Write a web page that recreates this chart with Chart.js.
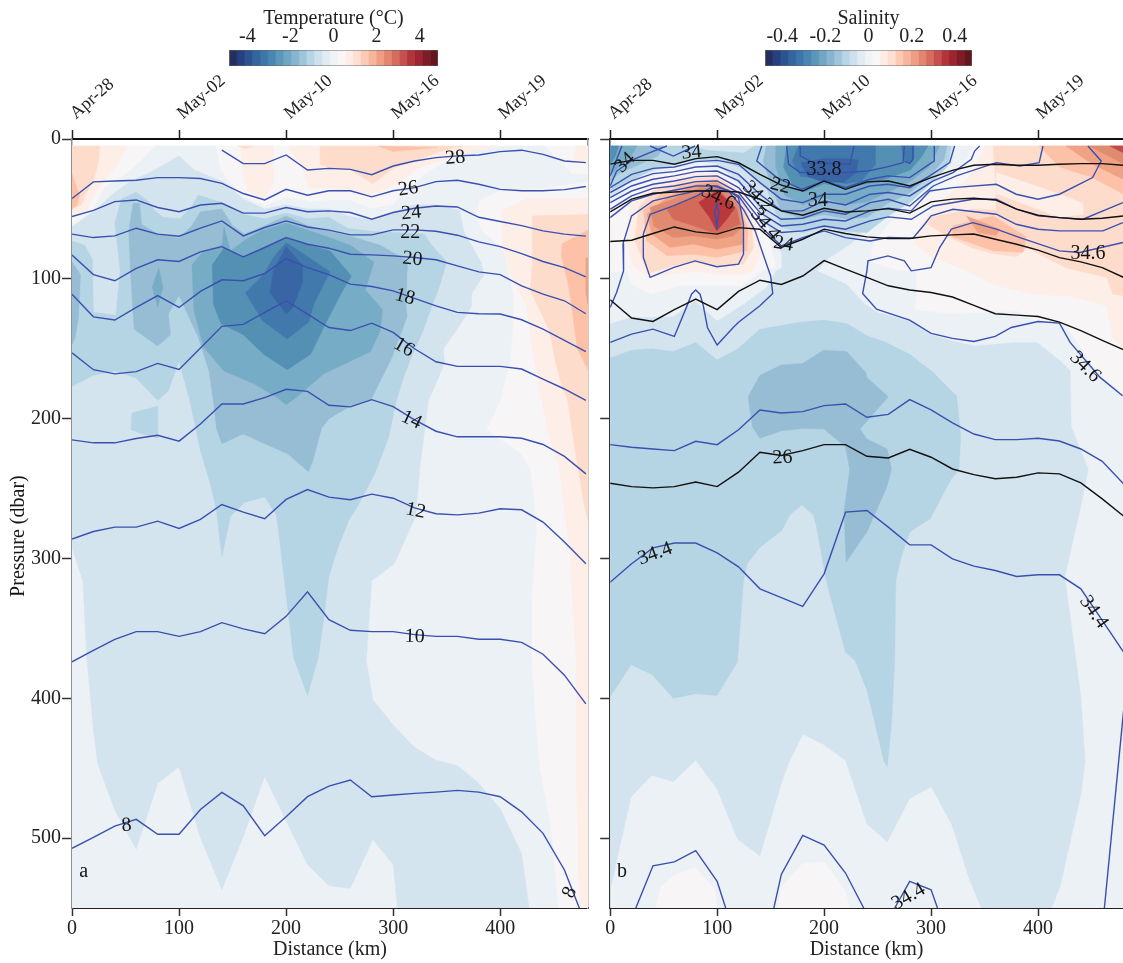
<!DOCTYPE html>
<html>
<head>
<meta charset="utf-8">
<title>Temperature and salinity anomaly sections</title>
<script src="https://cdn.jsdelivr.net/npm/chart.js@4/dist/chart.umd.js"></script>
<style>
  html, body { margin: 0; padding: 0; background: #fff; overflow: hidden; }
  canvas { position: absolute; }
</style>
</head>
<body>
<canvas id="panelA" style="left:0;top:0" width="600" height="963"></canvas>
<canvas id="panelB" style="left:590px;top:0" width="533" height="963"></canvas>
<canvas id="barA" style="left:190px;top:0" width="290" height="70"></canvas>
<canvas id="barB" style="left:726px;top:0" width="290" height="70"></canvas>
<script>
// ---- axes
const distanceTicks = [0, 100, 200, 300, 400];
const pressureTicks = [0, 100, 200, 300, 400, 500];
const dateLabels = ["Apr-28", "May-02", "May-10", "May-16", "May-19"];
const tempBarTicks = [-4, -2, 0, 2, 4];
const salBarTicks = [-0.4, -0.2, 0, 0.2, 0.4];

// CTD stations every 20 km
const stations = [0, 20, 40, 60, 80, 100, 120, 140, 160, 180, 200, 220, 240, 260, 280, 300, 320, 340, 360, 380, 400, 420, 440, 460, 480];

// ---- isotherms, pressure at each station (panel a)
const iso28 = [null, null, null, null, null, null, null, 8, 17.6, 17.6, 11.4, 22.2, 21, 21.7, 25.5, 19.3, 15.7, 13.3, 12.1, 11.4, 9, 8, 11, 15.7, 16.9];
const iso26 = [42.6, 30.7, 30, 29.5, 27.6, 27.6, 28.3, 31.7, 39, 43.6, 36, 40.2, 37, 37, 41.4, 37, 34.8, 30.5, 29.5, 32.4, 36, 37, 37, 36.2, 34];
const iso24 = [55.5, 51, 44.8, 43.6, 49, 52, 47.2, 46, 53, 53, 49, 52, 51.4, 52.6, 57.4, 52.6, 49.5, 47.9, 48.6, 56, 59, 62, 65.7, 68, 69.5];
const iso22 = [68, 70.5, 69.3, 63.8, 68, 69.5, 63.8, 58.6, 69.3, 63.3, 58.6, 62.9, 65.2, 68.6, 68.6, 65, 65, 66, 68.8, 73.6, 77, 82, 87.6, 92, 98.6];
const iso20 = [83, 97, 101.4, 92.6, 86.4, 87.6, 80.7, 77, 84.3, 77.6, 70.5, 75.3, 78.1, 82.4, 82.9, 83.6, 84.8, 86.4, 90.7, 95, 97, 105, 111, 115.7, 125];
const iso18 = [111, 127.2, 129.5, 120.5, 112, 120.5, 109, 100.7, 101.4, 96.2, 85.5, 92, 97, 103.8, 105.5, 108.6, 114, 119.3, 124, 125, 125.2, 129.3, 136, 144, 152];
const iso16 = [153, 165, 168, 166.4, 160.5, 164.8, 149.5, 134, 132.6, 124, 115.7, 125.2, 134.8, 137, 131.7, 138.3, 150, 159.3, 162.6, 162.6, 162.6, 164.5, 171.7, 178.8, 187];
const iso14 = [215.2, 217.3, 217.3, 214.2, 211.9, 216.1, 203.8, 189.5, 189.5, 185, 179, 180.5, 190.4, 191.6, 186.4, 191.4, 200.9, 209, 213, 213, 213, 214, 218.5, 227, 239.5];
const iso12 = [286.1, 280.7, 277.6, 277.6, 273.3, 278.5, 272.1, 261.4, 266.9, 271.6, 257.8, 250.7, 256.1, 258, 254, 256.9, 263.8, 268, 268.8, 267.6, 264.5, 265.2, 274, 288.3, 303.8];
const iso10 = [374, 365.7, 357.8, 352.3, 352.3, 355.7, 352.3, 345.9, 350.4, 353.8, 341.4, 323.8, 343.8, 351.4, 352.3, 352.3, 354.5, 355.7, 355.7, 357.8, 357.8, 360, 368.5, 383.5, 404];
const iso8 = [507.3, 499.5, 491.4, 486.6, 497.3, 497.3, 479.5, 467.3, 476.9, 498.3, 484.7, 470.4, 462.8, 458.5, 470.4, 469.2, 468, 467.1, 465.9, 467.1, 470.4, 481.2, 496.6, 522.8, 562];

// ---- temperature anomaly bands, [km, dbar] outlines (panel a)
const tField = [[0, 5], [482, 5], [482, 550], [0, 550]];
const tCool1 = [[78, 5], [134, 5], [139, 23], [151, 34], [162, 42], [179, 48], [200, 42], [223, 45], [241, 44], [260, 44], [280, 50], [300, 47], [308, 40], [330, 25], [361, 11], [402, 5], [442, 5], [455, 16], [467, 25], [482, 26], [482, 30], [439, 35], [399, 37], [380, 44], [377, 56], [383, 66], [402, 78], [408, 97], [412, 111], [412, 125], [410, 156], [405, 170], [400, 187], [387, 208], [419, 225], [428, 237], [434, 277], [429, 330], [429, 373], [436, 447], [447, 492], [454, 550], [0, 550], [0, 62], [20, 51], [30, 35], [51, 25], [64, 16]];
const tCool2 = [[100, 12], [114, 22], [142, 31], [160, 43], [180, 50], [200, 47], [220, 50], [240, 50], [258, 55], [280, 58], [300, 52], [320, 47], [340, 47], [362, 51], [366, 66], [382, 88], [385, 97], [373, 111], [373, 120], [365, 130], [347, 150], [348, 160], [340, 175], [333, 187], [325, 235], [321, 270], [301, 304], [280, 316], [275, 373], [281, 401], [301, 420], [320, 435], [339, 444], [360, 448], [379, 460], [400, 479], [420, 511], [427, 550], [304, 550], [300, 519], [281, 501], [260, 536], [240, 534], [220, 519], [180, 456], [160, 499], [140, 537], [120, 500], [100, 449], [80, 461], [60, 508], [40, 480], [24, 447], [20, 423], [14, 373], [10, 316], [0, 292], [0, 63], [20, 52], [40, 38], [55, 30], [75, 23]];
const tCool3 = [[0, 73], [12, 76], [19, 86], [20, 124], [41, 126], [45, 94], [40, 60], [46, 43], [60, 38], [72, 45], [77, 51], [85, 56], [101, 57], [112, 48], [118, 40], [142, 46], [161, 54], [180, 57], [200, 53], [220, 57], [240, 56], [258, 64], [280, 66], [307, 67], [329, 68], [336, 76], [350, 88], [343, 106], [336, 120], [328, 137], [317, 156], [310, 170], [303, 187], [296, 213], [283, 239], [268, 261], [259, 272], [248, 293], [240, 313], [235, 344], [230, 371], [220, 398], [207, 371], [198, 313], [191, 269], [180, 256], [161, 260], [148, 270], [140, 299], [135, 266], [130, 249], [120, 223], [110, 187], [100, 159], [90, 180], [80, 187], [60, 171], [40, 166], [20, 169], [0, 177]];
const tCool3Spot = [[56, 196], [80, 191], [80, 214], [70, 212], [55, 208]];
const tCool4 = [[53, 66], [57, 46], [63, 46], [65, 61], [80, 68], [100, 71], [112, 62], [120, 52], [140, 50], [150, 62], [161, 68], [180, 62], [200, 55], [220, 62], [240, 66], [262, 70], [288, 76], [313, 87], [313, 94], [312, 120], [313, 127], [299, 156], [279, 187], [260, 191], [240, 200], [233, 207], [225, 230], [221, 238], [201, 225], [180, 218], [160, 211], [140, 218], [135, 207], [132, 187], [128, 166], [118, 142], [100, 112], [90, 125], [92, 140], [80, 148], [58, 136], [55, 100]];
const tCool4Edge = [[0, 88], [8, 97], [6, 128], [3, 142], [0, 147]];
const tCool5 = [[112, 90], [114, 123], [123, 149], [142, 166], [170, 175], [192, 185], [200, 190], [209, 185], [235, 168], [279, 152], [288, 137], [290, 122], [274, 108], [282, 88], [260, 76], [235, 69], [200, 60], [176, 66], [162, 72], [148, 80], [142, 63], [140, 76], [123, 80]];
const tCool5Spot = [[81, 92], [75, 106], [80, 120], [85, 106]];
const tCool6 = [[131, 90], [142, 78], [160, 85], [179, 78], [200, 71], [221, 76], [241, 80], [261, 98], [251, 111], [235, 135], [223, 154], [201, 165], [179, 154], [160, 140], [139, 132], [132, 118]];
const tCool7 = [[162, 110], [179, 97], [188, 85], [200, 74], [216, 82], [241, 95], [226, 118], [221, 131], [201, 143], [178, 130]];
const tCool8 = [[185, 110], [188, 94], [200, 77], [215, 90], [215, 103], [206, 121], [200, 125], [193, 118]];
const tWarmLeft1 = [[0, 5], [52, 5], [42, 19], [30, 30], [20, 40], [14, 51], [0, 54]];
const tWarmLeft2 = [[0, 5], [26, 5], [25, 16], [20, 30], [12, 40], [9, 47], [0, 50]];
const tWarmLeft3 = [[0, 25], [7, 40], [5, 47], [0, 50]];
const tWarmTop1 = [[157, 5], [159, 18], [164, 37], [179, 43], [188, 32], [188, 5]];
const tWarmTop2 = [[201, 5], [215, 20], [221, 35], [241, 35], [260, 37], [281, 40], [304, 32], [323, 21], [361, 11], [398, 5]];
const tWarmTop3 = [[232, 5], [232, 18], [241, 21], [260, 22], [281, 32], [300, 21], [322, 15], [344, 9], [364, 5]];
const tWarmTop4 = [[286, 5], [300, 9], [342, 6]];
const tWarmTop5 = [[155, 5], [162, 7], [170, 5]];
const tWarmCorner = [[471, 5], [468, 16], [482, 17], [482, 5]];
const tWarmRight1 = [[402, 51], [424, 43], [482, 43], [482, 550], [474, 550], [471, 449], [471, 373], [465, 294], [455, 235], [444, 208], [439, 187], [430, 150], [425, 120], [411, 99], [402, 78]];
const tWarmRight2 = [[430, 55], [482, 54], [482, 273], [478, 260], [470, 223], [463, 187], [457, 175], [452, 161], [446, 137], [428, 108], [430, 90]];
const tWarmRight3 = [[458, 75], [482, 65], [482, 165], [472, 150], [466, 116], [463, 102], [457, 83]];
const tWarmRight4 = [[480, 85], [482, 85], [482, 118], [480, 110]];

// ---- isopycnals, pressure at each station (panel b)
const sigma26 = [246.2, 248.6, 249.5, 248.6, 245.3, 248.6, 238.3, 224, 226.4, 222.9, 218.6, 218.6, 226.9, 228.1, 221.9, 227.6, 236, 240, 243, 241.9, 238.8, 239.5, 246, 257.4, 269.8];
const sigma25 = [115, 128, 130.5, 122, 114.5, 122, 109, 101, 104, 98, 87, 93, 99, 105, 108, 109.8, 113, 119, 125, 126, 127, 131, 137, 144, 150.7];
const sigma24 = [73.3, 72.4, 67.6, 62.9, 66.4, 68, 63.4, 64.5, 77.6, 71.7, 64.5, 67.6, 70, 71.2, 71.2, 69.3, 68.6, 68, 71.7, 75.3, 79.5, 84.8, 87.9, 92, 99];
const sigma23 = [52.2, 43, 38.8, 37.9, 37.2, 37.2, 37.9, 43.1, 51.4, 54.5, 49.5, 52.2, 51.4, 49.8, 53, 45, 43, 42.4, 43.6, 50.2, 54.5, 56.2, 57.4, 56.7, 55];
const sigma22 = [18, 15.3, 15.3, 18, 14, 12.6, 17, 25.3, 33, 37.2, 30, 36, 30.7, 30, 33.6, 27.6, 22.4, 18.8, 18.1, 18.8, 18.8, 18.1, 17.6, 17.6, 18.8];

// ---- isohalines (panel b)
const hal344 = [317, 303.8, 292.4, 289, 289, 296, 306, 321.7, 328, 334.3, 311, 266.9, 265.7, 277.6, 290.3, 290.3, 300.3, 305.5, 308.6, 312.9, 311.7, 311.7, 321.7, 344.3, 367];
const hal345 = [218.6, 220.5, 221.7, 222.9, 216.2, 218.6, 208, 193.8, 196, 195, 190.7, 189.5, 199, 197, 186.4, 193.8, 203, 211, 215, 215, 214, 216, 221.7, 230.5, 246.7];
const halArc1 = [[24, 550], [40, 519.8], [60, 517], [80, 509], [100, 531], [108, 550]];
const halArc2 = [[153, 550], [160, 526], [180, 498], [200, 505], [220, 525], [237, 550]];
const halArc3 = [[266, 550], [280, 531], [300, 537], [306, 550]];
const halArc4 = [[462, 550], [480, 408.5]];
const halTongue = [[479, 183.6], [458, 170.5], [430, 145.5], [420, 131.7], [400, 130.5], [375, 134.8], [360, 141.2], [340, 144.8], [320, 142.6], [300, 139], [280, 129.5], [249, 121.7], [236, 110.5], [240, 94.3], [241, 87.2], [259.7, 83.6], [275, 87.2], [281.5, 94.3], [300, 92], [308, 77.6], [319, 64.5], [339, 59.8], [361, 64.5], [383, 70.5], [420, 80], [439, 81.2], [479.3, 74]];
const halBlobOuter = [[0, 145.5], [20, 139.5], [40, 136], [60, 141.2], [72, 119], [76, 111], [80, 108], [84, 111], [87, 119], [91, 135], [100, 147.4], [115, 134.8], [120, 131], [140, 119.3], [152, 110.5], [150, 98], [143, 82.4], [135.5, 65.7], [124.6, 50.3], [110.6, 37.2], [100, 36.7], [80, 37.2], [60, 40.7], [40, 44.3], [20, 55], [12, 75], [12.5, 94.3], [6, 109.8], [0, 120.5]];
const halBlobMid = [[31, 68], [37.4, 53.8], [59, 47.9], [81, 40.7], [96.6, 33.6], [110.6, 36.7], [120, 42], [124.6, 61], [124.6, 82.4], [120, 89.5], [99.7, 91.4], [79.4, 87.2], [59, 92], [37.4, 99], [31, 84.8], [31, 68]];
const halBlobCore = [[99.7, 64.5], [98, 52], [99.7, 46], [101.5, 52], [99.7, 64.5]];
const halA = [[0, 34.8], [20, 25.3], [40, 21], [60, 20], [80, 16.2], [100, 15.3], [120, 18.1], [140, 31.2], [160, 43.1], [180, 45.5], [200, 39.5], [220, 39.5], [242.6, 33.6], [259.7, 32.4], [280, 34.8], [298.7, 26.4], [317.3, 16.9], [322, 5]];
const halB = [[0, 38.3], [20, 30], [40, 24.8], [60, 23.3], [80, 20], [100, 19.3], [120, 25.3], [140, 39.5], [160, 51.4], [180, 51.4], [200, 44.3], [220, 47.2], [243, 39.5], [260, 38.3], [280, 40.7], [302, 30], [320.5, 24], [337.6, 14.5], [340.7, 8.6], [345.4, 5]];
const halC = [[0, 41.9], [20, 33.6], [40, 28.8], [60, 26.4], [80, 23.3], [100, 22.9], [120, 30], [140, 47.9], [160, 57.4], [180, 56.7], [200, 51.4], [220, 53.8], [243, 45.5], [260, 43.1], [280, 47.9], [302, 33.6], [323.6, 26.4], [361, 16.9], [383, 19.3], [401, 16.9], [404.6, 5]];
const halD = [[0, 45.5], [20, 37.2], [40, 32.4], [60, 30], [80, 26.9], [100, 26.4], [120, 34.8], [140, 52.6], [160, 62.2], [180, 61], [200, 57.4], [220, 58.6], [243, 51.4], [260, 49.5], [281.5, 51.4], [298.7, 37.2], [320.5, 34.8], [361, 32.4], [379.6, 39.5], [400, 43.1], [420, 39.5], [451, 27.6], [459, 15.7], [446.6, 5]];
const halE = [[0, 50.3], [20, 40.7], [40, 35.3], [60, 33.6], [80, 30.5], [100, 30], [120, 38.3], [140, 57.4], [160, 66.9], [180, 65.7], [200, 62.2], [220, 64.5], [243, 58.6], [260, 55.7], [281.5, 57.4], [302, 47.9], [339, 43.1], [361, 43.1], [379.6, 50.2], [400, 55], [420, 56.2], [442, 57.4], [479.3, 45.5]];
const halF = [[0, 56.2], [20, 44.3], [40, 39.5], [60, 36.7], [80, 33.6], [100, 33.6], [120, 40.7], [140, 62.2], [160, 76.4], [180, 70.5], [200, 65.7], [220, 70.5], [243, 72.9], [260, 70.5], [283, 71], [294, 61], [300, 55], [320.5, 50.3], [361, 53.8], [379.6, 61], [400, 64.5], [420, 65.7], [460.6, 65.7], [479.3, 59.8]];
const halCoreOuter = [[141.7, 5], [137, 15.7], [155.8, 27.6], [179, 36], [200, 30], [220, 34.8], [242.6, 28.8], [259.7, 26.4], [280, 27.6], [303, 15.7], [303, 5]];
const halCoreMid = [[165, 5], [166.7, 18], [177.6, 24], [200, 24], [220, 24], [241, 22.9], [260, 19.8], [273.7, 17], [275, 5]];
const halCoreIn = [[177.6, 5], [177.6, 12], [190, 17], [224, 18], [228, 5]];
const halCoreSmall = [[275, 16], [280, 17.4], [283, 14.5], [283, 5]];
const halTop1 = [[37.4, 5], [59, 12.2], [79.4, 5]];
const halTop2 = [[0, 26.4], [7.8, 11], [11, 5]];
const halTop3 = [[0, 33.6], [6, 23], [22, 14.5], [37, 9.8], [53, 5]];

// ---- salinity anomaly bands (panel b)
const sField = [[0, 5], [480, 5], [480, 550], [0, 550]];
const sCool2 = [[0, 5], [322, 5], [319, 17], [302, 29], [281.5, 40.7], [260, 51.4], [242.6, 61], [225, 75], [205, 85], [193, 94], [221, 104], [238, 118], [249, 124], [280, 130], [299, 140], [318, 144], [340, 148], [380, 145.5], [399, 145.5], [420.6, 158.6], [430, 165.7], [431, 206], [447, 236], [439, 266], [425, 313], [434.6, 368], [440, 399], [444, 445.5], [440, 469], [420.6, 534.7], [412.8, 550], [347, 550], [336, 530], [319, 489.5], [300, 463.3], [280, 471.7], [259, 502.6], [240, 490], [220, 444.3], [199.4, 433], [180, 425.7], [166.7, 446.7], [160, 461], [140, 512.6], [119, 500.7], [99.7, 464.5], [80, 444.3], [59, 459.7], [39, 455], [19.6, 470.5], [9, 506], [0, 537]];
const sFringe = [[0, 132], [18.7, 127.6], [59, 127], [79.4, 115.7], [100, 130], [124.6, 118], [146, 106], [155, 94], [160, 92], [160, 82], [152, 70], [140, 51], [125, 35], [100, 18], [80, 16], [59, 19], [37, 24], [19, 30], [0, 43]];
const sNeutralBlob = [[0, 48], [19, 34.8], [37, 27.6], [59, 23], [80, 20], [100, 23], [121, 33.6], [137, 51.4], [149, 73], [155, 92], [143, 94], [123, 105], [65, 105], [38, 111], [20, 104], [16, 95], [0, 95]];
const sNeutralRight = [[339, 5], [480, 5], [480, 182], [458, 170], [433, 141], [422, 131], [396, 130], [380, 123], [318, 125], [285, 122], [287, 108], [286, 94], [270, 94], [243, 88], [246, 75], [261, 60], [280, 51], [302, 37], [320, 25], [334, 14]];
const sNeutralArc1 = [[43, 550], [47, 535], [60, 526], [80, 521], [98, 537], [100, 550]];
const sNeutralArc2 = [[156, 550], [160, 535], [180, 518], [200, 517], [220, 538], [224, 550]];
const sCool3 = [[0, 156.7], [20, 151], [39, 150], [59, 152], [80, 145.5], [100, 158], [119.4, 150], [140, 136], [177.6, 131], [199.4, 129.5], [221, 132], [240, 140.7], [258, 145.5], [280, 154], [302, 167], [324, 184], [327.7, 213], [326, 237], [319, 243], [299, 271.7], [280, 281], [272, 299], [267, 316], [266, 373], [263, 418], [259, 449], [256, 445], [240, 394], [229, 373], [220, 367], [202, 316], [193, 277.6], [190, 269], [179, 261.7], [168, 269], [160.4, 280], [140, 292], [128, 304], [124.6, 316], [119, 374], [99.7, 398], [80, 396.7], [59, 400], [39, 383], [19.6, 376], [0, 399]];
const sCool4 = [[129, 184.3], [140, 169], [160, 161.7], [180, 160.5], [199.4, 151], [221, 152], [239, 167], [240, 170.5], [260, 184.3], [233.6, 207.4], [240, 214.5], [259, 221.7], [263, 236], [258.5, 249], [240, 281], [220.5, 302.6], [218.7, 265.7], [224, 236.4], [220, 220.5], [200, 207.4], [180.7, 207], [160.4, 208.6], [140, 214], [133, 206]];
const sTop3 = [[0, 5], [75, 5], [90, 8], [105, 9], [125, 10], [135, 5], [319, 5], [315, 20], [298, 33], [281, 45], [260, 55], [240, 67], [220, 66], [200, 63], [180, 67], [160, 63], [146, 35], [134, 27.6], [121.5, 20.4], [99.7, 14.5], [71.7, 15.7], [40.5, 21.6], [18.7, 30], [0, 37]];
const sTop4Left = [[0, 5], [50, 5], [45, 12], [25, 19], [10, 24], [0, 30]];
const sTop4 = [[146, 5], [143, 16], [150, 32], [160, 52], [180, 57], [200, 54], [220, 57], [240, 56], [260, 46], [281, 38], [298, 27], [312, 15], [315, 5]];
const sTop5Left = [[0, 5], [25, 5], [20, 12], [8, 20], [0, 26]];
const sTop5 = [[155, 5], [155, 20], [163, 40], [180, 47], [200, 42], [220, 47], [240, 45], [260, 38], [281, 30], [298, 20], [308, 5]];
const sTop6Left = [[0, 5], [8, 5], [5, 12], [0, 18]];
const sTop6 = [[165, 5], [162, 20], [170, 32], [180, 38], [200, 32], [220, 35], [240, 32], [260, 28], [281, 22], [292, 12], [297, 5]];
const sTop7 = [[176, 5], [170, 16], [178, 27], [200, 28], [220, 32], [235, 30], [248, 18], [248, 5]];
const sTop7Spot = [[272, 5], [274, 15], [280, 17], [284, 13], [284, 5]];
const sTop8 = [[178, 17], [185, 27], [200, 31], [218, 31], [230, 24], [232, 15], [220, 14], [200, 14]];
const sRight1 = [[350, 5], [345, 15], [335, 28], [310, 44], [290, 60], [285, 75], [302, 85], [320, 90], [336, 95], [358, 104], [396, 111], [427, 112], [464, 119], [470, 142], [480, 150], [480, 5]];
const sRight2 = [[358, 5], [361, 39], [361, 51], [339, 50], [300, 56], [297, 61], [316, 70], [339, 78], [358, 82], [380, 84], [390, 78], [426, 92], [464, 99], [470, 111], [480, 112], [480, 5]];
const sRightPatch = [[361, 24], [404, 35], [442, 46], [442, 54], [420, 56], [392, 48], [361, 39]];
const sRight3 = [[401, 5], [420, 20], [451, 27.6], [480, 39.5], [480, 5]];
const sTongue3 = [[320, 62], [358, 55], [389, 70], [386, 81], [358, 80], [320, 70]];
const sTongue4 = [[333, 55], [364, 64.5], [361, 69], [344, 67]];
const sRight4 = [[426, 5], [451, 18], [480, 29], [480, 5]];
const sRight5 = [[448, 5], [480, 18], [480, 5]];
const sRight6 = [[467, 5], [480, 10], [480, 5]];
const sBlob1 = [[18.7, 46.6], [40.5, 31], [71.7, 25], [99.7, 24], [124.6, 37], [137, 63], [140, 82.4], [134, 94], [124.6, 96.7], [99.7, 96.7], [79.4, 94.3], [56, 96.7], [37.4, 99], [22, 92], [15.6, 75]];
const sBlob2 = [[26.5, 49], [40.5, 37], [71.7, 28.8], [99.7, 26.4], [123, 40.7], [132.4, 63], [134, 77.6], [124.6, 89.5], [99.7, 90.7], [79.4, 88.3], [59, 90.7], [37.4, 95.5], [31, 87], [23, 73]];
const sBlob3 = [[31, 51.4], [46.7, 39.5], [74.8, 31], [99.7, 28.8], [120, 43], [129, 65.7], [127.7, 80], [99.7, 84.7], [77.9, 82.4], [53, 83.5], [34, 72.8]];
const sBlob4 = [[34.3, 53.8], [53, 41.9], [81, 32.4], [99.7, 31], [120, 44.3], [124.6, 64.5], [124.6, 75.2], [99.7, 78.8], [77.9, 75.2], [56, 77.6], [39, 68]];
const sBlob5 = [[37.4, 49], [59, 43], [84, 34.7], [106, 34.7], [120, 47.8], [123, 63.3], [115, 69.3], [99.7, 71.6], [77.9, 69.3], [59, 70.5], [40.5, 62]];
const sBlob6 = [[53, 50.2], [84, 39.5], [102.8, 37], [118.4, 50.2], [121.5, 61], [99.7, 68], [77.9, 62], [59, 57.4]];
const sBlob7 = [[82.6, 45.4], [99.7, 37], [116.8, 49], [109, 57.4], [99.7, 65.7], [92, 55]];

// ---- contour labels: km, dbar, text, rotation
const tempLabels = [
  [358, 13.6, "28", -5], [314, 35.7, "26", -8], [317, 53, "24", -5], [316, 67, "22", 0], [318, 86, "20", 5],
  [311, 113, "18", 15], [310, 149, "16", 30], [317, 201, "14", 25], [321, 266, "12", 12], [320, 356, "10", 2],
  [51, 491, "8", -5], [465, 539, "8", -65], [11, 524, "a", 0]
];
const salLabels = [
  [14, 17, "34", -45], [76, 9.8, "34", -5], [101, 42, "34.6", 25], [138, 41, "34.2", 45], [159, 33.6, "22", 15],
  [194, 44, "34", 0], [200, 21.7, "33.8", 0], [145, 61, "34.4", 50], [162, 75.2, "24", 10], [446.6, 82.4, "34.6", 0],
  [161, 228, "26", -3], [444, 163, "34.6", 45], [42, 296.7, "34.4", -20], [452, 338.3, "34.4", 55], [279, 542, "34.4", -30], [11, 524, "b", 0]
];

// ---- colour bar cells, dark blue to dark red
const barColors = ["#23305F", "#27407F", "#2C5491", "#34659F", "#3E76A9", "#4A86B1", "#5A97B9", "#6FA6C4", "#85B5CF", "#9FC5DA", "#B7D5E5", "#CDE0EC", "#E1EBF2", "#EFF3F6", "#F8F6F6", "#FDEDE6", "#FEDFD1", "#FDCBB5", "#F8B59D", "#EF9E85", "#E38670", "#D66C5E", "#C5504F", "#B23539", "#9B2530", "#7F1D26", "#63171C"];

const c = {
  b8: "#3A65A4", b7: "#4279AD", b6: "#5490B4", b5: "#76ACC6", b4: "#96BDD3", b3: "#B5D4E4", b2: "#D3E4EF", b1: "#ECF1F6",
  n: "#F7F5F6", r1: "#FDEEE8", r2: "#FEDCCB", r3: "#FDC1A8", r4: "#F0A285", r5: "#E08A70", r6: "#D46A5A", r7: "#C14B48", r8: "#B8383C"
};
const blueLine = "#3A50B0";
const serif = "'Liberation Serif', 'Times New Roman', serif";

// paint order, bottom layer first
const tempBands = [
  [tField, c.n], [tCool1, c.b1], [tCool2, c.b2], [tCool3, c.b3], [tCool3Spot, c.b3], [tCool4, c.b4], [tCool4Edge, c.b4],
  [tCool5, c.b5], [tCool5Spot, c.b5], [tCool6, c.b6], [tCool7, c.b7], [tCool8, c.b8],
  [tWarmLeft1, c.r1], [tWarmLeft2, c.r2], [tWarmLeft3, c.r3], [tWarmTop1, c.r1], [tWarmTop2, c.r1], [tWarmTop3, c.r2],
  [tWarmTop4, c.r3], [tWarmTop5, c.r2], [tWarmCorner, c.r1], [tWarmRight1, c.r1], [tWarmRight2, c.r2], [tWarmRight3, c.r3], [tWarmRight4, c.r4]
];
const salBands = [
  [sField, c.b1], [sCool2, c.b2], [sFringe, c.b1], [sNeutralBlob, c.n], [sNeutralRight, c.n], [sNeutralArc1, c.n], [sNeutralArc2, c.n],
  [sRight1, c.r1], [sRight2, c.r2], [sRightPatch, c.r1], [sRight3, c.r3], [sTongue3, c.r3], [sTongue4, c.r4], [sRight4, c.r4], [sRight5, c.r5], [sRight6, c.r7],
  [sBlob1, c.r1], [sBlob2, c.r2], [sBlob3, c.r3], [sBlob4, c.r4], [sBlob5, c.r5], [sBlob6, c.r6], [sBlob7, c.r8],
  [sCool3, c.b3], [sCool4, c.b4], [sTop3, c.b3], [sTop4Left, c.b4], [sTop4, c.b4], [sTop5Left, c.b5], [sTop5, c.b5], [sTop6Left, c.b6], [sTop6, c.b6], [sTop7, c.b7], [sTop7Spot, c.b7], [sTop8, c.b8]
];
const tempLines = [iso28, iso26, iso24, iso22, iso20, iso18, iso16, iso14, iso12, iso10, iso8];
const salStationLines = [hal344, hal345];
const salPathLines = [halArc1, halArc2, halArc3, halArc4, halTongue, halBlobOuter, halBlobMid, halBlobCore, halA, halB, halC, halD, halE, halF, halCoreOuter, halCoreMid, halCoreIn, halCoreSmall, halTop1, halTop2, halTop3];
const sigmaLines = [sigma26, sigma25, sigma24, sigma23, sigma22];

const toPoints = pairs => pairs.map(p => ({ x: p[0], y: p[1] }));
const closed = pairs => toPoints(pairs.concat([pairs[0]]));
const onStations = vals => stations.map((x, i) => ({ x, y: vals[i] })).filter(p => p.y !== null);

function bandSet(band) {
  return { data: closed(band[0]), showLine: true, fill: "shape", backgroundColor: band[1], borderColor: band[1], borderWidth: 0.4, pointRadius: 0 };
}
function lineSet(points, color) {
  return { data: points, showLine: true, fill: false, borderColor: color, borderWidth: 1.4, pointRadius: 0, tension: 0 };
}

// text along the contours, placed through the chart's own scales
const contourLabels = {
  id: "contourLabels",
  afterDatasetsDraw(chart, args, opts) {
    const ctx = chart.ctx;
    ctx.save();
    ctx.font = "20px " + serif;
    ctx.fillStyle = "#151515";
    ctx.textAlign = "center";
    ctx.textBaseline = "middle";
    opts.items.forEach(it => {
      ctx.save();
      ctx.translate(chart.scales.x.getPixelForValue(it[0]), chart.scales.y.getPixelForValue(it[1]));
      ctx.rotate(it[3] * Math.PI / 180);
      ctx.fillText(it[2], 0, 0);
      ctx.restore();
    });
    if (opts.yTitle) {
      // the reference centres this title a little below the axis middle
      ctx.translate(19, chart.scales.y.getPixelForValue(284));
      ctx.rotate(-Math.PI / 2);
      ctx.fillText(opts.yTitle, 0, 0);
    }
    ctx.restore();
  }
};

function section(id, datasets, labels, xMax, opts) {
  const tickFont = { family: serif, size: 20 };
  new Chart(document.getElementById(id), {
    type: "scatter",
    data: { datasets: datasets.slice().reverse() }, // last dataset is drawn first
    plugins: [contourLabels],
    options: {
      responsive: false,
      animation: false,
      devicePixelRatio: 1,
      layout: { autoPadding: false, padding: { left: 0, right: opts.rightPad, top: 0, bottom: 0 } },
      plugins: { legend: { display: false }, tooltip: { enabled: false }, contourLabels: { items: labels, yTitle: opts.yTitle } },
      elements: { line: { tension: 0 } },
      scales: {
        x: {
          type: "linear", position: "bottom", min: 0, max: xMax,
          afterBuildTicks: s => { s.ticks = distanceTicks.map(value => ({ value })); },
          afterFit: s => { s.height = 55; },
          border: { color: "#222", width: 2 },
          grid: { drawOnChartArea: false, tickLength: 8, tickColor: "#333", tickWidth: 1.5 },
          ticks: { font: tickFont, color: "#222", padding: 1, maxRotation: 0, callback: v => v },
          title: { display: true, text: "Distance (km)", font: tickFont, color: "#222", padding: { top: 0, bottom: 1 } }
        },
        xTop: {
          type: "linear", position: "top", min: 0, max: xMax,
          afterBuildTicks: s => { s.ticks = distanceTicks.map(value => ({ value })); },
          afterFit: s => { s.height = 139; },
          border: { color: "#111", width: 2 },
          grid: { drawOnChartArea: false, tickLength: 9, tickColor: "#222", tickWidth: 1.5 },
          ticks: { font: { family: serif, size: 18 }, color: "#222", padding: 6, labelOffset: 15, minRotation: 41, maxRotation: 41, autoSkip: false,
            callback: v => dateLabels[distanceTicks.indexOf(v)] }
        },
        y: {
          type: "linear", position: "left", reverse: true, min: 0, max: 550,
          afterBuildTicks: s => { s.ticks = pressureTicks.map(value => ({ value })); },
          afterFit: s => { s.width = opts.leftWidth; },
          border: { color: opts.leftColor, width: 1.5 },
          grid: { drawOnChartArea: false, tickLength: 10, tickColor: "#333", tickWidth: 1.5 },
          ticks: { display: !!opts.yTitle, font: tickFont, color: "#222", padding: 1, callback: v => v }
        },
        yEdge: {
          type: "linear", position: "right", display: opts.showEdge, min: 0, max: 550,
          afterFit: s => { s.width = 0; },
          border: { color: "#9a9a9a", width: 1.5 },
          grid: { display: false, drawTicks: false },
          ticks: { display: false }
        }
      }
    }
  });
}

section("panelA",
  tempBands.map(bandSet).concat(tempLines.map(v => lineSet(onStations(v), blueLine))),
  tempLabels, 482, { rightPad: 12, leftWidth: 72, leftColor: "#8f8f8f", yTitle: "Pressure (dbar)", showEdge: true });

section("panelB",
  salBands.map(bandSet)
    .concat(salStationLines.map(v => lineSet(onStations(v), blueLine)))
    .concat(salPathLines.map(p => lineSet(toPoints(p), blueLine)))
    .concat(sigmaLines.map(v => lineSet(onStations(v), "#111"))),
  salLabels, 479.4, { rightPad: 0, leftWidth: 20, leftColor: "#333", yTitle: "", showEdge: false });

// colour bars: one rectangle per cell on a linear value axis
function colorBar(id, title, ticks, lim, padLeft, padRight) {
  const step = (2 * lim) / barColors.length;
  const cells = barColors.map((color, i) => {
    const lo = -lim + i * step, hi = lo + step;
    return { data: closed([[lo, 0], [hi, 0], [hi, 1], [lo, 1]]), showLine: true, fill: "shape",
      backgroundColor: color, borderColor: color, borderWidth: 0.5, pointRadius: 0 };
  });
  const frame = { data: closed([[-lim, 0], [lim, 0], [lim, 1], [-lim, 1]]), showLine: true, fill: false,
    borderColor: "#666", borderWidth: 1, pointRadius: 0 };
  new Chart(document.getElementById(id), {
    type: "scatter",
    data: { datasets: [frame].concat(cells) },
    options: {
      responsive: false,
      animation: false,
      devicePixelRatio: 1,
      layout: { autoPadding: false, padding: { left: padLeft, right: padRight, top: 0, bottom: 4 } },
      plugins: { legend: { display: false }, tooltip: { enabled: false } },
      scales: {
        x: {
          type: "linear", position: "top", min: -lim, max: lim,
          afterBuildTicks: s => { s.ticks = ticks.map(value => ({ value })); },
          afterFit: s => { s.height = 50; },
          border: { display: false },
          grid: { display: false, drawTicks: false, tickLength: 0 },
          ticks: { font: { family: serif, size: 20 }, color: "#222", padding: 1, maxRotation: 0, autoSkip: false, callback: v => v },
          title: { display: true, text: title, font: { family: serif, size: 20 }, color: "#222", padding: { top: 7, bottom: 0 } }
        },
        y: { type: "linear", display: false, min: 0, max: 1 }
      }
    }
  });
}
colorBar("barA", "Temperature (°C)", tempBarTicks, 4.85, 39, 42);
colorBar("barB", "Salinity", salBarTicks, 0.48, 39, 44);
</script>
</body>
</html>
